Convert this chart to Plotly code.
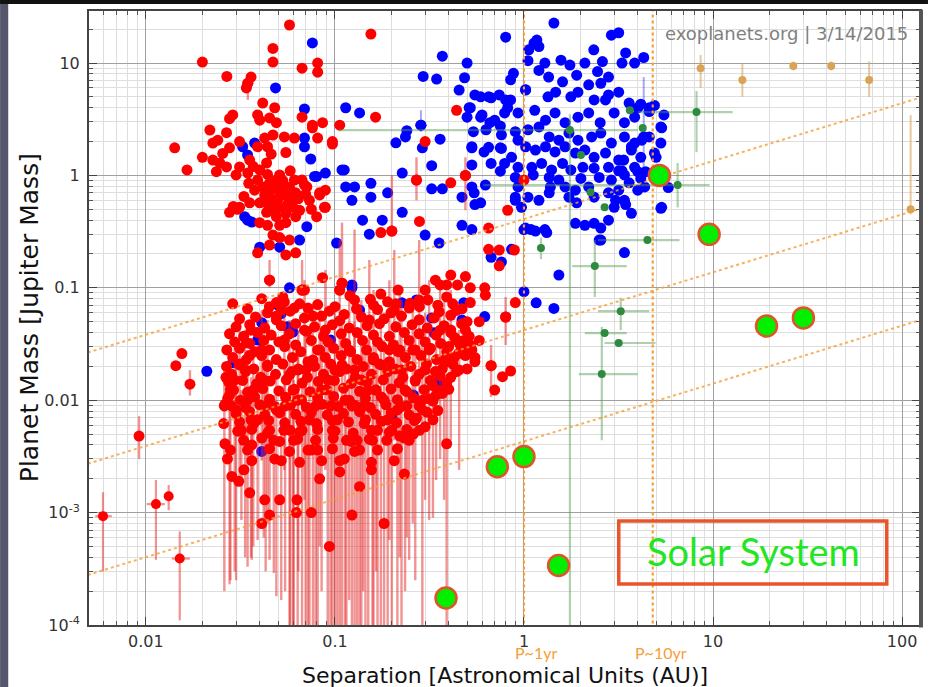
import plotly.graph_objects as go

# ---------------------------------------------------------------------------
# Exoplanet mass vs. orbital separation (exoplanets.org, 3/14/2015)
# separation in AU, planet mass in Jupiter masses
# ---------------------------------------------------------------------------

# Solar System planets
solar_names = ["Mercury", "Venus", "Earth", "Mars", "Jupiter", "Saturn", "Uranus", "Neptune"]
solar_sep = [0.387, 0.723, 1.0, 1.524, 5.203, 9.537, 19.19, 30.07]
solar_mass = [1.74e-4, 2.56e-3, 3.15e-3, 3.38e-4, 1.0, 0.299, 0.0457, 0.0540]

# Transiting planets: hot Jupiters and other giant planets (sep, mass)
transit_giants = [
    (0.0575, 21.8), (0.047, 13.5), (0.047, 10.2), (0.0199, 10.2), (0.0268, 7.6), (0.036, 7.5),
    (0.0346, 6.6), (0.034, 6.0), (0.0415, 4.4), (0.048, 4.0), (0.0288, 3.45), (0.0277, 3.2),
    (0.039, 3.45), (0.040, 3.1), (0.0451, 3.25), (0.049, 2.95), (0.067, 3.3), (0.076, 2.8),
    (0.086, 2.95), (0.106, 2.8), (0.067, 9.0), (0.081, 10.0), (0.081, 8.3), (0.0218, 2.53),
    (0.0267, 2.4), (0.024, 2.06), (0.0226, 1.94), (0.0313, 2.0), (0.0277, 1.76), (0.0255, 1.57),
    (0.0142, 1.76), (0.0199, 1.45), (0.0165, 1.12), (0.0425, 2.15), (0.047, 2.29), (0.054, 2.2),
    (0.061, 2.15), (0.044, 1.8), (0.055, 1.6), (0.039, 1.8), (0.076, 2.65), (0.081, 2.15),
    (0.097, 2.0), (0.0226, 1.37), (0.0246, 1.29), (0.0267, 1.19), (0.0236, 1.08), (0.0313, 1.19),
    (0.030, 1.01), (0.0346, 1.05), (0.040, 1.12), (0.0435, 1.29), (0.0354, 1.37), (0.039, 0.91),
    (0.0415, 0.79), (0.0451, 0.70), (0.049, 0.91), (0.053, 0.74), (0.047, 0.60), (0.051, 0.52),
    (0.055, 0.46), (0.059, 0.57), (0.062, 0.70), (0.0575, 0.79), (0.0451, 0.52), (0.040, 0.57),
    (0.0354, 0.57), (0.0313, 0.52), (0.0277, 0.47), (0.049, 0.43), (0.0435, 0.47), (0.040, 0.38),
    (0.055, 0.38), (0.062, 0.43), (0.071, 0.79), (0.067, 0.91), (0.083, 0.70), (0.089, 0.74),
    (0.089, 0.52), (0.080, 0.43), (0.047, 0.295), (0.051, 0.28), (0.0575, 0.266), (0.062, 0.205),
    (0.055, 0.196), (0.039, 0.205), (0.0451, 0.24), (0.0451, 0.117), (0.067, 0.0955), (0.086, 0.123),
    (0.109, 0.11), (0.048, 0.82), (0.054, 0.67), (0.0425, 0.67), (0.051, 1.01), (0.0575, 0.60),
    (0.065, 0.49), (0.0376, 0.74), (0.061, 0.91), (0.0733, 0.60), (0.051, 0.36), (0.044, 0.36),
    (0.0305, 0.50), (0.029, 0.53),
    (0.050, 0.62), (0.058, 0.68), (0.045, 0.85), (0.053, 0.90), (0.060, 0.52), (0.048, 0.48),
    (0.056, 0.55), (0.064, 0.62), (0.042, 0.58), (0.050, 0.75), (0.035, 0.85), (0.037, 1.20),
    (0.033, 0.65), (0.070, 0.68), (0.075, 0.50), (0.044, 1.02), (0.058, 1.10), (0.046, 1.55),
    (0.155, 18.1), (0.164, 3.3), (0.30, 2.0), (0.44, 3.8), (0.27, 0.91), (0.41, 0.86), (0.49, 1.0),
    (0.069, 0.82), (0.083, 0.67), (0.088, 0.52), (1.0, 0.91), (0.82, 0.49), (0.65, 0.34),
    (0.28, 0.39), (0.175, 0.31), (0.20, 0.32), (0.097, 1.9),
    (0.49, 0.126), (0.52, 0.10), (0.62, 0.10), (0.625, 0.086), (0.52, 0.074), (0.58, 0.050),
    (0.90, 0.074), (0.80, 0.055), (0.46, 0.033), (0.58, 0.034), (0.49, 0.025), (0.55, 0.024),
    (0.67, 0.0203), (0.77, 0.0162), (0.85, 0.0182), (0.70, 0.0123), (0.34, 0.117), (0.39, 0.106),
    (0.74, 0.157), (0.65, 0.22), (0.74, 0.217), (0.89, 0.217), (0.41, 0.13),
    (0.0288, 0.072), (0.049, 0.074), (0.053, 0.083), (0.069, 0.0955), (0.0765, 0.056), (0.036, 0.042),
    (0.034, 0.0325), (0.0354, 0.025), (0.049, 0.056), (0.052, 0.0634), (0.065, 0.072), (0.106, 0.0955),
    (0.175, 0.088), (0.216, 0.0955), (0.30, 0.0955), (0.36, 0.106), (0.445, 0.106),
    (0.0144, 0.0203), (0.0155, 0.026),
]

# Transiting small planets (sep, mass)
transit_small = [
    (0.041, 0.080), (0.054, 0.075), (0.081, 0.071), (0.12, 0.085), (0.154, 0.079), (0.21, 0.072),
    (0.31, 0.078), (0.39, 0.083),
    (0.045, 0.068), (0.058, 0.062), (0.072, 0.066), (0.10, 0.068), (0.13, 0.065), (0.16, 0.070),
    (0.19, 0.075), (0.25, 0.073), (0.28, 0.068), (0.35, 0.070), (0.42, 0.072), (0.47, 0.065),
    (0.0345, 0.065), (0.044, 0.060), (0.061, 0.066), (0.0935, 0.062), (0.112, 0.058), (0.168, 0.064),
    (0.198, 0.060), (0.247, 0.066), (0.356, 0.061), (0.44, 0.063),
    (0.0313, 0.053), (0.038, 0.055), (0.049, 0.052), (0.069, 0.054), (0.085, 0.056), (0.106, 0.051),
    (0.138, 0.055), (0.182, 0.053), (0.225, 0.056), (0.279, 0.052), (0.335, 0.054), (0.41, 0.057),
    (0.50, 0.050),
    (0.030, 0.045), (0.0354, 0.047), (0.0425, 0.044), (0.052, 0.046), (0.062, 0.048), (0.078, 0.045),
    (0.097, 0.047), (0.119, 0.044), (0.148, 0.046), (0.172, 0.048), (0.21, 0.045), (0.256, 0.047),
    (0.308, 0.044), (0.378, 0.046), (0.468, 0.048),
    (0.0277, 0.039), (0.0329, 0.037), (0.039, 0.040), (0.046, 0.038), (0.0575, 0.039), (0.071, 0.041),
    (0.087, 0.037), (0.108, 0.039), (0.131, 0.040), (0.160, 0.038), (0.194, 0.037), (0.233, 0.040),
    (0.279, 0.039), (0.343, 0.038), (0.41, 0.040), (0.513, 0.037),
    (0.49, 0.042), (0.43, 0.036), (0.46, 0.031), (0.40, 0.030), (0.45, 0.026), (0.42, 0.021),
    (0.38, 0.0215), (0.44, 0.018), (0.36, 0.0165), (0.33, 0.0135), (0.37, 0.0115), (0.40, 0.0125),
    (0.33, 0.0098), (0.29, 0.0082), (0.35, 0.0081), (0.27, 0.0069), (0.30, 0.0058), (0.22, 0.0048),
    (0.26, 0.0050), (0.53, 0.028), (0.55, 0.022), (0.50, 0.019), (0.48, 0.034), (0.52, 0.031),
    (0.0295, 0.033), (0.0354, 0.032), (0.042, 0.034), (0.0505, 0.033), (0.062, 0.031), (0.075, 0.034),
    (0.092, 0.033), (0.114, 0.032), (0.14, 0.034), (0.168, 0.033), (0.204, 0.031), (0.247, 0.034),
    (0.30, 0.033), (0.363, 0.032), (0.44, 0.034),
    (0.0268, 0.028), (0.0313, 0.029), (0.0376, 0.027), (0.0451, 0.028), (0.0542, 0.030), (0.066, 0.027),
    (0.081, 0.028), (0.0985, 0.029), (0.121, 0.027), (0.147, 0.028), (0.178, 0.030), (0.216, 0.027),
    (0.266, 0.028), (0.32, 0.029), (0.39, 0.027), (0.47, 0.028),
    (0.0288, 0.024), (0.034, 0.023), (0.041, 0.025), (0.049, 0.023), (0.0596, 0.024), (0.072, 0.022),
    (0.089, 0.024), (0.108, 0.025), (0.131, 0.023), (0.160, 0.024), (0.194, 0.022), (0.236, 0.024),
    (0.285, 0.025), (0.345, 0.023), (0.427, 0.024),
    (0.0267, 0.020), (0.0313, 0.021), (0.0372, 0.019), (0.044, 0.020), (0.053, 0.021), (0.064, 0.019),
    (0.078, 0.020), (0.095, 0.021), (0.115, 0.019), (0.141, 0.020), (0.172, 0.021), (0.208, 0.019),
    (0.252, 0.020), (0.305, 0.021), (0.37, 0.019),
    (0.0284, 0.017), (0.0337, 0.018), (0.0405, 0.016), (0.0485, 0.017), (0.059, 0.018), (0.0715, 0.016),
    (0.087, 0.017), (0.106, 0.018), (0.128, 0.016), (0.156, 0.017), (0.19, 0.018), (0.229, 0.016),
    (0.279, 0.017), (0.34, 0.018), (0.41, 0.016),
    (0.0274, 0.0145), (0.0325, 0.0150), (0.0385, 0.0140), (0.0455, 0.0148), (0.0553, 0.0152),
    (0.0672, 0.0142), (0.0817, 0.0147), (0.0994, 0.0150), (0.122, 0.0141), (0.148, 0.0146),
    (0.18, 0.0152), (0.219, 0.0143), (0.266, 0.0148), (0.32, 0.0150), (0.39, 0.0142),
    (0.0291, 0.0123), (0.0345, 0.0118), (0.0415, 0.0127), (0.0505, 0.0121), (0.061, 0.0125),
    (0.074, 0.0119), (0.090, 0.0124), (0.111, 0.0128), (0.135, 0.0120), (0.164, 0.0123),
    (0.198, 0.0126), (0.24, 0.0119), (0.297, 0.0124), (0.36, 0.0122),
    (0.0271, 0.0104), (0.0317, 0.0100), (0.0376, 0.0107), (0.0451, 0.0102), (0.0548, 0.0106),
    (0.0665, 0.0101), (0.081, 0.0105), (0.0985, 0.0108), (0.119, 0.0100), (0.145, 0.0104),
    (0.176, 0.0107), (0.214, 0.0101), (0.26, 0.0105), (0.315, 0.0103),
    (0.0284, 0.0089), (0.0337, 0.0086), (0.040, 0.0091), (0.048, 0.0088), (0.0582, 0.0090),
    (0.0705, 0.0087), (0.0855, 0.0092), (0.104, 0.0088), (0.127, 0.0090), (0.154, 0.0086),
    (0.186, 0.0091), (0.226, 0.0088), (0.279, 0.0089),
    (0.030, 0.0076), (0.0354, 0.0079), (0.0425, 0.0074), (0.051, 0.0077), (0.062, 0.0075),
    (0.075, 0.0078), (0.091, 0.0074), (0.111, 0.0076), (0.135, 0.0079), (0.164, 0.0075),
    (0.198, 0.0077), (0.247, 0.0074), (0.308, 0.0078),
    (0.0313, 0.0064), (0.0372, 0.0062), (0.0446, 0.0066), (0.0542, 0.0063), (0.066, 0.0065),
    (0.080, 0.0062), (0.097, 0.0066), (0.118, 0.0064), (0.143, 0.0062), (0.176, 0.0065),
    (0.212, 0.0063), (0.263, 0.0066),
    (0.0306, 0.0053), (0.0363, 0.0055), (0.044, 0.0051), (0.0537, 0.0054), (0.065, 0.0052),
    (0.081, 0.0055), (0.10, 0.0053), (0.125, 0.0051), (0.156, 0.0054), (0.194, 0.0052), (0.24, 0.0055),
    (0.0329, 0.0044), (0.041, 0.0046), (0.051, 0.0043), (0.0635, 0.0045), (0.079, 0.0044),
    (0.098, 0.0046), (0.122, 0.0043), (0.152, 0.0045), (0.188, 0.0044), (0.233, 0.0046),
    (0.0345, 0.0036), (0.0451, 0.0037), (0.0575, 0.0035), (0.075, 0.0036), (0.097, 0.0037),
    (0.127, 0.0035), (0.168, 0.0036), (0.214, 0.0037),
    (0.0363, 0.0029), (0.048, 0.0030), (0.065, 0.0028), (0.085, 0.0029), (0.112, 0.0030),
    (0.156, 0.0028), (0.206, 0.0029),
    (0.031, 0.0019), (0.0354, 0.0015), (0.0425, 0.0013), (0.0451, 0.00095), (0.041, 0.0008),
    (0.051, 0.0013), (0.063, 0.0013), (0.0625, 0.0010), (0.075, 0.0010), (0.0935, 0.0005),
    (0.123, 0.00095), (0.182, 0.0008), (0.027, 0.0030), (0.0285, 0.0021), (0.033, 0.0024),
    (0.083, 0.0020), (0.106, 0.0023), (0.135, 0.0017), (0.156, 0.0024), (0.233, 0.0022),
    (0.28, 0.0054), (0.0262, 0.0041), (0.0258, 0.0062), (0.0262, 0.0092), (0.028, 0.0125),
    (0.0265, 0.016),
]

# Planets with mass uncertainties (sep, mass, mass_low, mass_high)
mass_ranges = [
    (0.0277, 0.0111, 0.00023, 0.031), (0.030, 0.0082, 0.00025, 0.0228), (0.032, 0.0054, 0.00086, 0.0123),
    (0.0345, 0.0100, 0.00033, 0.028), (0.0363, 0.0040, 0.00038, 0.0082), (0.039, 0.0067, 0.00057, 0.0151),
    (0.042, 0.0151, 0.0006, 0.0421), (0.0451, 0.0054, 0.00038, 0.0100), (0.049, 0.0082, 0.00018, 0.0186),
    (0.052, 0.0029, 0.000167, 0.0054), (0.0575, 0.0168, 5e-5, 0.0517), (0.0605, 0.0044, 5e-5, 0.0151),
    (0.0635, 0.0100, 5e-5, 0.0343), (0.0733, 0.0067, 5e-5, 0.0228), (0.0765, 0.0228, 5e-5, 0.070),
    (0.081, 0.0036, 5e-5, 0.0100), (0.085, 0.0123, 0.0002, 0.0421), (0.097, 0.0054, 5e-5, 0.0186),
    (0.100, 0.0186, 5e-5, 0.0634), (0.106, 0.0029, 5e-5, 0.0082), (0.113, 0.0100, 5e-5, 0.0421),
    (0.119, 0.028, 0.000167, 0.0955), (0.131, 0.0044, 5e-5, 0.0151), (0.138, 0.0151, 5e-5, 0.078),
    (0.145, 0.0067, 5e-5, 0.028), (0.160, 0.0228, 5e-5, 0.0955), (0.168, 0.0054, 5e-5, 0.0186),
    (0.182, 0.0100, 5e-5, 0.0343), (0.194, 0.028, 0.00057, 0.117), (0.214, 0.0082, 5e-5, 0.0343),
    (0.225, 0.0186, 5e-5, 0.078), (0.247, 0.0044, 0.00038, 0.0123), (0.266, 0.0151, 0.00025, 0.0517),
    (0.290, 0.0100, 5e-5, 0.0421), (0.315, 0.028, 0.00086, 0.117), (0.343, 0.0111, 0.00195, 0.0343),
    (0.378, 0.0228, 0.0013, 0.078), (0.41, 0.0421, 0.0044, 0.0955), (0.454, 0.0186, 0.0024, 0.0421),
    (0.39, 0.0041, 5e-5, 0.0151), (0.069, 0.042, 0.0013, 0.117), (0.054, 0.0343, 0.0024, 0.078),
    (0.041, 0.028, 0.0029, 0.0634), (0.0313, 0.0206, 0.00195, 0.0517), (0.089, 0.0421, 0.0024, 0.144),
    (0.152, 0.0517, 0.0067, 0.177), (0.206, 0.0634, 0.0044, 0.217), (0.279, 0.078, 0.010, 0.266),
    (0.127, 0.078, 0.0151, 0.33), (0.106, 0.0955, 0.028, 0.266),
    (0.060, 0.0123, 5e-5, 0.028), (0.067, 0.0054, 5e-5, 0.0137), (0.070, 0.0186, 5e-5, 0.0421),
    (0.079, 0.0089, 5e-5, 0.0228), (0.092, 0.0151, 5e-5, 0.0343), (0.103, 0.0067, 5e-5, 0.0206),
    (0.109, 0.0206, 5e-5, 0.0517), (0.123, 0.0089, 5e-5, 0.0251), (0.135, 0.0036, 5e-5, 0.0111),
    (0.150, 0.0123, 5e-5, 0.0343), (0.175, 0.0206, 5e-5, 0.0634), (0.200, 0.0054, 5e-5, 0.0186),
    (0.235, 0.0123, 0.0002, 0.0343), (0.258, 0.028, 0.0008, 0.078), (0.028, 0.0036, 0.00025, 0.0089),
    (0.0335, 0.0186, 0.0004, 0.0421), (0.037, 0.0123, 0.0005, 0.028), (0.044, 0.0206, 0.0008, 0.0517),
    (0.0475, 0.0044, 0.00029, 0.0111), (0.0545, 0.0089, 0.0002, 0.0228),
    (0.058, 0.0054, 5e-5, 0.0123), (0.064, 0.0186, 0.0003, 0.042), (0.072, 0.0036, 5e-5, 0.0089),
    (0.083, 0.028, 0.0005, 0.070), (0.095, 0.0089, 5e-5, 0.0228), (0.115, 0.0044, 5e-5, 0.0123),
    (0.127, 0.0186, 5e-5, 0.050), (0.141, 0.0089, 0.0002, 0.028), (0.158, 0.0044, 5e-5, 0.0151),
    (0.165, 0.0123, 0.0003, 0.042), (0.19, 0.0067, 5e-5, 0.0186), (0.22, 0.028, 0.0004, 0.090),
    (0.24, 0.0089, 0.0006, 0.028), (0.30, 0.0186, 0.0013, 0.060), (0.33, 0.0067, 0.0009, 0.0186),
    (0.36, 0.042, 0.003, 0.10), (0.043, 0.0089, 0.0003, 0.022), (0.036, 0.0067, 0.0004, 0.016),
    (0.0295, 0.0151, 0.0003, 0.035), (0.026, 0.0089, 0.0002, 0.0186),
    (0.27, 0.91, 0.60, 1.45), (0.49, 1.0, 0.49, 1.45), (0.20, 0.32, 0.30, 1.0),
    (0.67, 0.0203, 0.0107, 0.031), (0.80, 0.055, 0.031, 0.083), (0.109, 0.11, 0.09, 0.38),
    (0.0451, 0.117, 0.10, 0.177), (0.067, 0.0955, 0.085, 0.177), (0.0092, 0.0048, 0.0030, 0.0072),
    (0.0171, 0.0139, 0.011, 0.0185), (0.0346, 6.6, 4.7, 7.0),
]

# Microlensing planets (sep, mass, sep_low, sep_high, mass_low, mass_high)
microlensing = [
    (0.00593, 0.00093, 0.0054, 0.0066, 0.00030, 0.00152),
    (0.0113, 0.00119, 0.0101, 0.0126, 0.00038, 0.00195),
    (0.0132, 0.00140, 0.0132, 0.0132, 0.00105, 0.00176),
    (0.0151, 0.00039, 0.0137, 0.0171, 0.00011, 0.00068),
]

# Radial-velocity planets (sep, mass)
rv_planets = [
    (0.076, 15.1), (0.0485, 6.0), (0.069, 3.9), (0.069, 2.15), (0.069, 1.8), (0.0745, 1.4), (0.078, 0.98),
    (0.0325, 1.8), (0.0345, 1.52), (0.0376, 1.94), (0.0345, 0.40), (0.0363, 0.385), (0.071, 0.35),
    (0.114, 4.0), (0.135, 3.6), (0.109, 1.12), (0.08, 0.98), (0.089, 1.05), (0.114, 0.79), (0.127, 0.79),
    (0.123, 0.60), (0.0333, 0.43), (0.065, 0.266), (0.102, 0.25), (0.040, 0.23), (0.051, 0.23),
    (0.0575, 0.10), (0.123, 0.10),
    (0.37, 11.5), (0.50, 10.0), (0.293, 7.6), (0.345, 7.2), (0.485, 7.4), (0.454, 5.75), (0.59, 5.0),
    (0.67, 4.9), (0.513, 4.0), (0.50, 3.3), (0.59, 3.3), (0.80, 4.7), (0.82, 4.0), (0.66, 2.95),
    (0.75, 2.75), (0.90, 2.45), (0.285, 2.8), (0.24, 2.5), (0.21, 1.95), (0.236, 2.2), (0.36, 2.1),
    (0.29, 1.76), (0.53, 1.8), (0.65, 1.78), (0.75, 1.76), (0.67, 1.28), (0.53, 1.24), (0.75, 1.09),
    (0.325, 1.22), (0.227, 1.05), (0.112, 1.12), (0.155, 0.85), (0.155, 0.64), (0.19, 0.70),
    (0.325, 0.76), (0.37, 0.76), (0.227, 0.47), (0.47, 0.64), (0.545, 0.70), (0.59, 0.57), (0.625, 0.82),
    (0.90, 0.64), (0.47, 0.36), (0.53, 0.33), (1.0, 0.33), (1.09, 0.33), (1.29, 0.33), (0.14, 0.40),
    (0.178, 0.40), (0.152, 0.30),
    (1.44, 22.7), (0.80, 17.0), (1.06, 13.1), (1.13, 15.0), (1.17, 16.0), (1.20, 14.0), (1.29, 10.0),
    (1.57, 10.6), (1.75, 9.6), (2.1, 10.0), (2.34, 13.1), (2.6, 10.3), (2.9, 17.7), (3.17, 18.6),
    (3.3, 10.0), (3.45, 12.3), (0.88, 8.1), (0.85, 7.1), (1.02, 5.8), (3.85, 10.0), (4.3, 11.2),
    (2.55, 6.6), (2.8, 7.5), (2.7, 4.7), (3.17, 5.5), (3.6, 4.4), (4.0, 4.0), (4.6, 4.0), (5.5, 3.45),
    (5.35, 2.65), (4.6, 2.2), (5.3, 1.94), (5.0, 1.45), (4.2, 2.06), (3.7, 1.8), (3.37, 1.37),
    (3.17, 1.1), (4.0, 1.08), (4.35, 0.79), (5.8, 0.78), (5.3, 0.51), (3.4, 0.60), (3.0, 0.52),
    (3.7, 0.46), (2.8, 0.40), (2.55, 0.34), (2.55, 0.266), (3.4, 0.206),
    (1.35, 7.5), (1.6, 6.8), (1.9, 7.8), (2.2, 6.4), (1.2, 8.6), (1.05, 10.5), (2.45, 8.4),
    (0.55, 5.2), (0.65, 5.0), (0.74, 5.2), (0.85, 4.7), (1.02, 5.75), (1.34, 5.0), (1.47, 5.5),
    (1.77, 5.0), (1.93, 5.5), (2.35, 4.7), (2.8, 5.2), (4.15, 4.3), (4.9, 4.2),
    (0.52, 4.0), (0.60, 3.45), (0.70, 3.1), (0.79, 3.6), (0.93, 3.6), (1.14, 3.8), (1.30, 3.1),
    (1.46, 3.6), (1.65, 2.95), (1.93, 3.3), (2.2, 3.6), (2.53, 2.95), (3.0, 3.6), (3.4, 2.95),
    (3.85, 3.3), (4.6, 3.7), (5.3, 2.7),
    (0.54, 2.45), (0.63, 2.55), (0.76, 2.3), (0.93, 2.06), (1.05, 2.55), (1.2, 2.7), (1.36, 2.2),
    (1.53, 2.06), (1.73, 2.38), (1.93, 2.06), (2.28, 2.2), (2.55, 2.38), (2.9, 1.94), (3.4, 2.2),
    (3.85, 1.94), (4.35, 2.2),
    (0.53, 1.76), (0.615, 1.62), (0.76, 1.74), (0.86, 1.45), (1.02, 1.8), (1.15, 1.68), (1.3, 1.8),
    (1.46, 1.62), (1.65, 1.8), (1.87, 1.58), (2.1, 1.68), (2.35, 1.45), (2.7, 1.58), (3.17, 1.37),
    (3.7, 1.68), (4.15, 1.45), (4.9, 1.58),
    (0.79, 1.28), (0.93, 1.18), (1.1, 1.18), (1.24, 1.28), (1.4, 1.12), (1.6, 1.28), (1.77, 1.12),
    (2.05, 1.18), (2.35, 1.16), (2.8, 1.18), (3.3, 1.1), (3.85, 1.18), (4.4, 1.08),
    (0.90, 0.96), (1.12, 1.01), (1.36, 0.96), (1.53, 0.91), (2.0, 0.94), (2.5, 0.96), (2.9, 0.91),
    (3.4, 1.01), (4.15, 0.94),
    (0.53, 0.79), (0.93, 0.79), (1.05, 0.64), (1.38, 0.79), (1.65, 0.79), (1.87, 0.74), (2.2, 0.79),
    (2.35, 0.64), (2.8, 0.70), (3.17, 0.74), (3.6, 0.86), (4.0, 0.74),
    (0.55, 0.55), (0.90, 0.60), (0.97, 0.52), (1.2, 0.60), (1.36, 0.70), (1.73, 0.64), (1.9, 0.57),
    (3.05, 0.60), (3.45, 0.55), (5.35, 0.52),
    (1.02, 0.34), (1.15, 0.32), (1.32, 0.31), (1.87, 0.375), (2.1, 0.36), (2.35, 0.375), (2.5, 0.266),
    (0.30, 0.295), (0.356, 0.25), (0.67, 0.187), (0.76, 0.17), (0.86, 0.22), (1.0, 0.0923),
    (1.16, 0.0735), (1.44, 0.0655), (1.53, 0.13), (0.48, 0.0735), (0.62, 0.0555), (0.47, 0.0517),
    (0.325, 0.054), (0.335, 0.0398), (0.226, 0.0735), (0.27, 0.078), (0.135, 0.0634), (0.123, 0.106),
    (0.050, 0.070), (0.052, 0.059), (0.041, 0.049), (0.039, 0.0343), (0.056, 0.045), (0.0288, 0.0216),
    (0.021, 0.0181), (0.060, 0.0404), (0.095, 0.0343), (0.356, 0.0145), (0.26, 0.0111), (0.20, 0.0071),
    (0.041, 0.0035),
]

# RV planets with visible uncertainties (sep, mass, mass_low, mass_high)
rv_ranges = [(0.285, 2.8, 2.45, 3.8), (4.3, 2.2, 1.08, 7.5)]

# Planets found by other methods (sep, mass, sep_low, sep_high, mass_low, mass_high)
other_planets = [
    (8.18, 3.66, 4.0, 12.7, 1.61, 5.64),
    (4.25, 2.64, 4.25, 4.25, 2.64, 2.64),
    (3.63, 3.8, 3.63, 3.63, 3.8, 3.8),
    (6.5, 0.82, 0.61, 9.6, 0.52, 1.29),
    (2.67, 0.52, 2.67, 2.67, 0.52, 0.52),
    (4.5, 0.266, 2.46, 6.65, 0.266, 0.266),
    (1.23, 0.226, 1.23, 1.23, 0.18, 0.28),
    (2.37, 0.156, 1.8, 3.5, 0.0828, 0.266),
    (3.25, 0.062, 2.46, 4.6, 0.042, 0.0815),
    (2.67, 0.0396, 2.1, 3.5, 0.0396, 0.0396),
    (3.17, 0.0323, 2.67, 4.96, 0.0323, 0.0323),
    (2.58, 0.0171, 1.95, 4.0, 0.0044, 0.045),
    (1.75, 2.53, 0.104, 4.0, 5e-5, 3.5),
    (2.0, 1.52, 2.0, 2.0, 1.52, 1.52),
    (2.25, 0.71, 2.25, 2.25, 0.71, 0.71),
]

# Directly imaged planets (sep, mass, mass_low, mass_high)
imaged = [
    (8.6, 9.0, 6.0, 11.8),
    (14.3, 7.06, 5.0, 9.8),
    (26.6, 9.4, 8.6, 10.3),
    (42.2, 9.4, 8.6, 10.3),
    (67.0, 7.06, 5.0, 10.3),
    (111.0, 0.50, 0.45, 3.44),
]

# Lines of constant RV semi-amplitude: mass = coeff * sep**rv_slope
rv_coeffs = [0.41, 0.042, 0.0043]
rv_slope = 0.515
rv_span = [0.004, 200.0]

# Orbital periods of 1 and 10 years (solar-mass host)
period_seps = [1.0, 4.8]
period_labels = ["P~1yr", "P~10yr"]

x_tickvals = [0.01, 0.1, 1, 10, 100]
x_ticktext = ["0.01", "0.1", "1", "10", "100"]
y_tickvals = [1e-4, 1e-3, 0.01, 0.1, 1, 10]
y_ticktext = ["10<sup>-4</sup>", "10<sup>-3</sup>", "0.01", "0.1", "1", "10"]


def col(rows, i):
    return [r[i] for r in rows]


RED = "#ff0000"
BLUE = "#0000ff"
GREEN = "#2e8a3e"
TAN = "#d9a458"
ORANGE = "#f5a036"
DOT = 11

fig = go.Figure()

# radial velocity planets
fig.add_trace(go.Scatter(
    x=col(rv_ranges, 0), y=col(rv_ranges, 1), mode="markers",
    marker=dict(color=BLUE, size=DOT),
    error_y=dict(type="data", symmetric=False,
                 array=[r[3] - r[1] for r in rv_ranges],
                 arrayminus=[r[1] - r[2] for r in rv_ranges],
                 color="rgba(60,60,255,0.45)", thickness=2, width=0),
))
fig.add_trace(go.Scatter(
    x=col(rv_planets, 0), y=col(rv_planets, 1), mode="markers",
    marker=dict(color=BLUE, size=DOT),
))

# transiting planets with mass ranges
fig.add_trace(go.Scatter(
    x=col(mass_ranges, 0), y=col(mass_ranges, 1), mode="markers",
    marker=dict(color=RED, size=DOT),
    error_y=dict(type="data", symmetric=False,
                 array=[r[3] - r[1] for r in mass_ranges],
                 arrayminus=[r[1] - r[2] for r in mass_ranges],
                 color="rgba(228,40,40,0.5)", thickness=2.4, width=0),
))
fig.add_trace(go.Scatter(
    x=col(microlensing, 0), y=col(microlensing, 1), mode="markers",
    marker=dict(color=RED, size=10),
    error_x=dict(type="data", symmetric=False,
                 array=[r[3] - r[0] for r in microlensing],
                 arrayminus=[r[0] - r[2] for r in microlensing],
                 color="rgba(228,40,40,0.5)", thickness=2.2, width=0),
    error_y=dict(type="data", symmetric=False,
                 array=[r[5] - r[1] for r in microlensing],
                 arrayminus=[r[1] - r[4] for r in microlensing],
                 color="rgba(228,40,40,0.5)", thickness=2.2, width=0),
))
fig.add_trace(go.Scatter(
    x=col(transit_small, 0), y=col(transit_small, 1), mode="markers",
    marker=dict(color=RED, size=DOT),
))
fig.add_trace(go.Scatter(
    x=col(transit_giants, 0), y=col(transit_giants, 1), mode="markers",
    marker=dict(color=RED, size=DOT),
))

# other detection methods
fig.add_trace(go.Scatter(
    x=col(other_planets, 0), y=col(other_planets, 1), mode="markers",
    marker=dict(color=GREEN, size=8),
    error_x=dict(type="data", symmetric=False,
                 array=[r[3] - r[0] for r in other_planets],
                 arrayminus=[r[0] - r[2] for r in other_planets],
                 color="rgba(80,150,80,0.45)", thickness=2.2, width=0),
    error_y=dict(type="data", symmetric=False,
                 array=[r[5] - r[1] for r in other_planets],
                 arrayminus=[r[1] - r[4] for r in other_planets],
                 color="rgba(80,150,80,0.45)", thickness=2.2, width=0),
))

# direct imaging
fig.add_trace(go.Scatter(
    x=col(imaged, 0), y=col(imaged, 1), mode="markers",
    marker=dict(color=TAN, size=8),
    error_y=dict(type="data", symmetric=False,
                 array=[r[3] - r[1] for r in imaged],
                 arrayminus=[r[1] - r[2] for r in imaged],
                 color="rgba(217,164,88,0.6)", thickness=2, width=0),
))

# constant-K guide lines
for c in rv_coeffs:
    fig.add_trace(go.Scatter(
        x=rv_span, y=[c * s ** rv_slope for s in rv_span], mode="lines",
        line=dict(color=ORANGE, width=2, dash="dot"), opacity=0.8,
    ))

# period guide lines
for s in period_seps:
    fig.add_trace(go.Scatter(
        x=[s, s], y=[1e-5, 100], mode="lines",
        line=dict(color=ORANGE, width=2.2, dash="dot"),
    ))

# Solar System
fig.add_trace(go.Scatter(
    x=solar_sep, y=solar_mass, mode="markers", hovertext=solar_names,
    marker=dict(color="#00f000", size=21, line=dict(color="#e0542c", width=2.5)),
))

axis_common = dict(
    type="log", showline=True, linecolor="#444", linewidth=2, mirror="allticks",
    ticks="inside", ticklen=8, tickwidth=1.2, tickcolor="#444",
    showgrid=True, gridcolor="#a0a0a0", gridwidth=1.2, zeroline=False,
    tickfont=dict(family="DejaVu Sans", size=16, color="#333"),
    minor=dict(ticks="inside", ticklen=4, tickcolor="#555", dtick="D1",
               showgrid=True, gridcolor="#dedede", gridwidth=1),
)

fig.update_layout(
    width=930, height=687,
    margin=dict(l=89, r=8, t=11, b=62),
    paper_bgcolor="white", plot_bgcolor="white",
    showlegend=False,
    xaxis=dict(axis_common, range=[-2.301, 2.095], tickmode="array",
               tickvals=x_tickvals, ticktext=x_ticktext, ticklabelstandoff=1),
    yaxis=dict(axis_common, range=[-4, 1.463], tickmode="array",
               tickvals=y_tickvals, ticktext=y_ticktext, ticklabelstandoff=4),
)

annotations = [
    dict(text="Separation [Astronomical Units (AU)]", xref="paper", yref="paper",
         x=0.5, y=-0.083, xanchor="center", yanchor="middle", showarrow=False,
         font=dict(family="DejaVu Sans", size=22, color="#111")),
    dict(text="Planet Mass [Jupiter Mass]", xref="paper", yref="paper",
         x=-0.072, y=0.5, xanchor="center", yanchor="middle", textangle=-90, showarrow=False,
         font=dict(family="DejaVu Sans", size=25, color="#111")),
    dict(text="exoplanets.org | 3/14/2015", xref="paper", yref="paper",
         x=0.988, y=0.964, xanchor="right", yanchor="middle", showarrow=False,
         font=dict(family="DejaVu Sans", size=18, color="#808080")),
    dict(text="Solar System", xref="paper", yref="paper",
         x=0.7995, y=0.1205, xanchor="center", yanchor="middle", showarrow=False,
         font=dict(family="Lato", size=38, color="#22e622")),
]
for lab, px in zip(period_labels, [0.538, 0.688]):
    annotations.append(dict(text=lab, xref="paper", yref="paper", x=px, y=-0.0456,
                            xanchor="center", yanchor="middle", showarrow=False,
                            font=dict(family="Lato", size=16, color=ORANGE)))
fig.update_layout(annotations=annotations)

fig.update_layout(shapes=[
    # box around the Solar System label
    dict(type="rect", xref="paper", yref="paper", x0=0.6375, x1=0.960, y0=0.0668, y1=0.1694,
         line=dict(color="#e8542c", width=3.5), fillcolor="rgba(0,0,0,0)"),
    # dark slide edges
    dict(type="rect", xref="paper", yref="paper", x0=-0.107, x1=-0.0972, y0=-0.102, y1=1.018,
         line=dict(width=0), fillcolor="#55556c"),
    dict(type="rect", xref="paper", yref="paper", x0=-0.107, x1=1.0096, y0=1.0114, y1=1.018,
         line=dict(width=0), fillcolor="#111111"),
    # shaded right frame edge
    dict(type="rect", xref="paper", yref="paper", x0=0.9988, x1=1.0036, y0=-0.004, y1=1.002,
         line=dict(width=0), fillcolor="#555555"),
])

fig.write_html("out.html")
